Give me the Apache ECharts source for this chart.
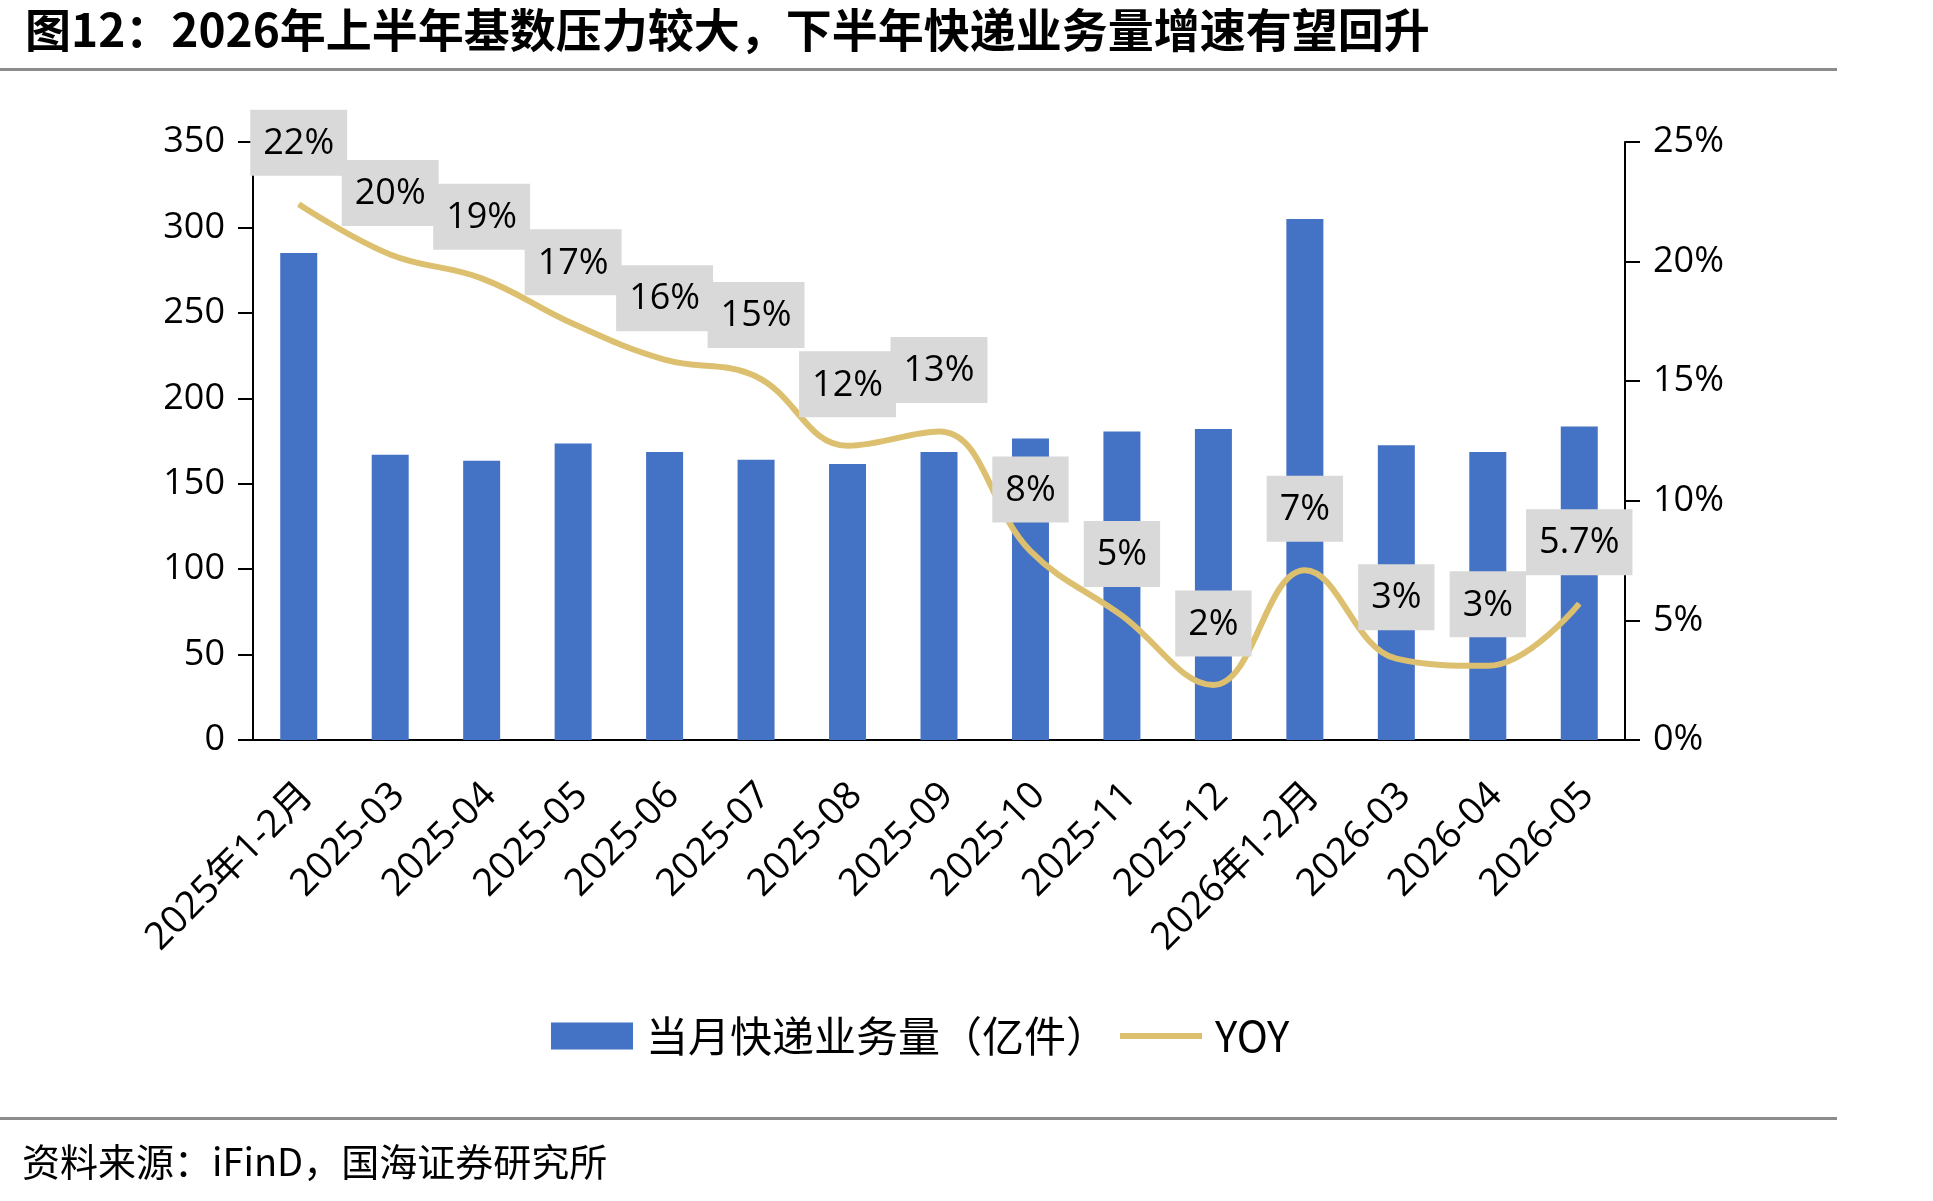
<!DOCTYPE html>
<html>
<head>
<meta charset="utf-8">
<script src="https://cdn.jsdelivr.net/npm/echarts@6/dist/echarts.min.js"></script>
<style>
  html, body { margin: 0; padding: 0; background: #fff; }
  #chart { width: 1933px; height: 1201px; }
</style>
</head>
<body>
<div id="chart"></div>
<script>
const categories = ['2025年1-2月', '2025-03', '2025-04', '2025-05', '2025-06', '2025-07', '2025-08', '2025-09',
  '2025-10', '2025-11', '2025-12', '2026年1-2月', '2026-03', '2026-04', '2026-05']
// 当月快递业务量（亿件）
const volume = [285, 167, 163.5, 173.5, 168.5, 164, 161.5, 168.5, 176.5, 180.5, 182, 305, 172.5, 168.5, 183.5]
// YOY (%)
const yoy = [22.4, 20.3, 19.3, 17.4, 15.9, 15.2, 12.3, 12.9, 7.9, 5.2, 2.3, 7.1, 3.4, 3.1, 5.7]

const latin = '"Open Sans", "Noto Sans CJK SC", sans-serif'
const cjk = '"Noto Sans CJK SC", sans-serif'

let myChart = echarts.init(document.getElementById('chart'))
myChart.setOption({
  animation: false,
  backgroundColor: '#fff',
  title: {
    text: '图12：2026年上半年基数压力较大，下半年快递业务量增速有望回升',
    left: 20,
    top: 2,
    textStyle: { fontFamily: cjk, fontSize: 46, fontWeight: 'bold', color: '#000' }
  },
  graphic: [
    { type: 'rect', shape: { x: 0, y: 68, width: 1837, height: 3 }, style: { fill: '#8c8c8c' } },
    { type: 'rect', shape: { x: 0, y: 1117, width: 1837, height: 3 }, style: { fill: '#8c8c8c' } },
    {
      type: 'text', left: 22, top: 1143,
      style: { text: '资料来源：iFinD，国海证券研究所', font: '38px ' + cjk, fill: '#000' }
    }
  ],
  legend: {
    left: 546,
    top: 1010,
    itemWidth: 82,
    itemHeight: 27,
    itemGap: 12,
    textStyle: { fontFamily: cjk, fontSize: 42, color: '#000', padding: [0, 0, 0, 8] },
    data: [
      { name: '当月快递业务量（亿件）', icon: 'rect' },
      { name: 'YOY', icon: 'path://M0,0H14V1H0Z' }
    ]
  },
  grid: { left: 253, right: 308, top: 142, bottom: 461 },
  xAxis: {
    type: 'category',
    data: categories,
    axisLine: { lineStyle: { color: '#000', width: 2 } },
    axisTick: { length: 16, lineStyle: { color: '#000', width: 2 } },
    axisLabel: {
      rotate: 45, margin: 58, interval: 0,
      padding: [0, -12, 0, 0],
      fontFamily: latin, fontSize: 38, color: '#000'
    }
  },
  yAxis: [
    {
      type: 'value', min: 0, max: 350, interval: 50,
      splitLine: { show: false },
      axisLine: { show: true, lineStyle: { color: '#000', width: 2 } },
      axisTick: { show: true, length: 15, lineStyle: { color: '#000', width: 2 } },
      axisLabel: { margin: 28, fontFamily: latin, fontSize: 36, color: '#000' }
    },
    {
      type: 'value', min: 0, max: 25, interval: 5,
      splitLine: { show: false },
      axisLine: { show: true, lineStyle: { color: '#000', width: 2 } },
      axisTick: { show: true, length: 15, lineStyle: { color: '#000', width: 2 } },
      axisLabel: { margin: 28, fontFamily: latin, fontSize: 36, color: '#000', formatter: '{value}%' }
    }
  ],
  series: [
    {
      name: '当月快递业务量（亿件）',
      type: 'bar',
      data: volume,
      barWidth: 37,
      itemStyle: { color: '#4472C4' }
    },
    {
      name: 'YOY',
      type: 'line',
      yAxisIndex: 1,
      data: yoy,
      smooth: 0.4,
      symbol: 'circle',
      symbolSize: 1,
      z: 3,
      lineStyle: { color: '#DCC06F', width: 6 },
      itemStyle: { color: '#DCC06F' },
      label: {
        show: true,
        position: 'top',
        distance: 28,
        fontFamily: latin,
        fontSize: 36,
        color: '#000',
        backgroundColor: '#D9D9D9',
        padding: [16, 13, 14, 13],
        formatter: p => p.dataIndex === yoy.length - 1 ? p.value.toFixed(1) + '%' : Math.round(p.value) + '%'
      }
    }
  ]
})
</script>
</body>
</html>
